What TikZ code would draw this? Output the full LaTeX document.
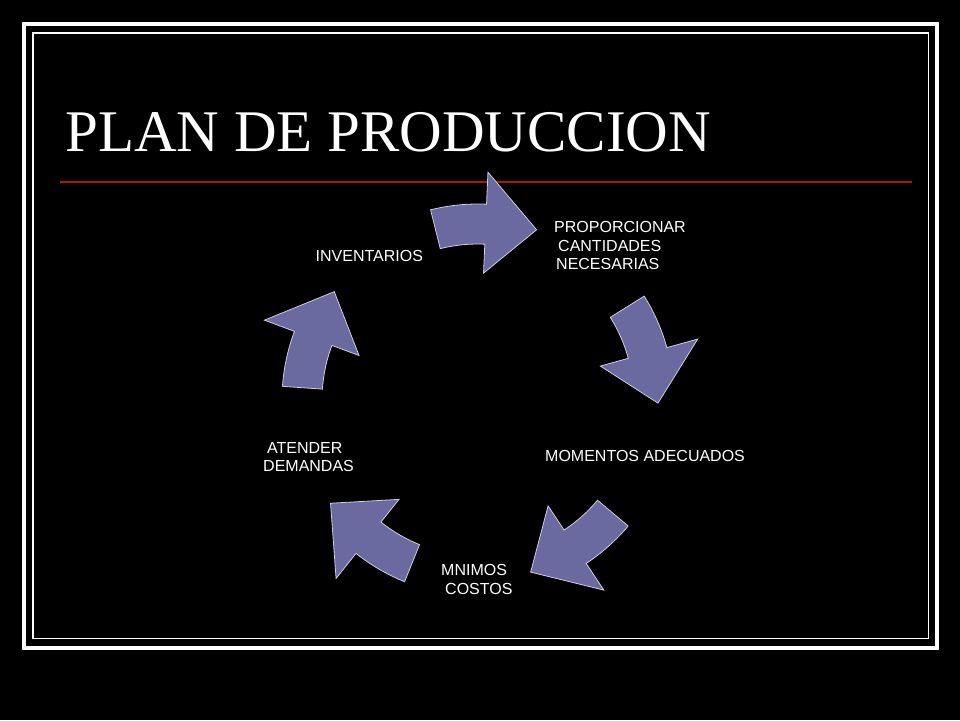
\documentclass[tikz,border=0pt]{standalone}
\usepackage{fontspec}
\setmainfont{Liberation Serif}
\setsansfont{Liberation Sans}
\usetikzlibrary{calc}
\definecolor{arrowfill}{RGB}{106,106,160}
\definecolor{arrowline}{RGB}{205,205,220}
\definecolor{titlerule}{RGB}{175,20,20}
\tikzset{x=1pt,y=1pt,
  titletext/.style={text=white,inner sep=0pt,anchor=base west,
    font=\fontsize{59}{59}\selectfont},
  cycletext/.style={text=white,inner sep=0pt,anchor=base west,align=left,
    font=\sffamily\fontsize{16}{18.5}\selectfont},
  cyclearrow/.style={fill=arrowfill,draw=arrowline,line width=0.8pt,line join=miter}}

\begin{document}
\begin{tikzpicture}
  % background and frame
  \fill[black] (0,0) rectangle (960,720);
  \useasboundingbox (0,0) rectangle (960,720);
  \draw[white,line width=4.5pt] (24,72) rectangle (937,696);
  \draw[white,line width=1.5pt] (33,81.5) rectangle (928.5,687);
  % title
  \node[titletext] (title) at (65,568) {PLAN DE PRODUCCION};
  \draw[titlerule,line width=1.3pt] (60,538) -- (912,538);
  % cycle
  \coordinate (c) at (478,320);
  \foreach \a in {90,18,-54,-126,-198}{
    \draw[cyclearrow] ($(c)+({\a+14}:196pt)$)
      arc[start angle=\a+14,end angle=\a-2.5,radius=196pt]
      -- ($(c)+({\a-2.5}:228pt)$) -- ($(c)+({\a-19}:180pt)$)
      -- ($(c)+({\a-2.5}:127pt)$) -- ($(c)+({\a-2.5}:156pt)$)
      arc[start angle=\a-2.5,end angle=\a+14,radius=156pt] -- cycle;
  }
  % labels (base = last line)
  \node[cycletext] (proporcionar) at (554,450)
    {PROPORCIONAR\\\hspace*{4pt}CANTIDADES\\\hspace*{2pt}NECESARIAS};
  \node[cycletext] (momentos) at (545,258) {MOMENTOS ADECUADOS};
  \node[cycletext] (costos) at (441,126) {MNIMOS\\\hspace*{4pt}COSTOS};
  \node[cycletext] (demandas) at (263,248) {\hspace*{4pt}ATENDER\\DEMANDAS};
  \node[cycletext] (inventarios) at (315.5,458) {INVENTARIOS};
\end{tikzpicture}
\end{document}
